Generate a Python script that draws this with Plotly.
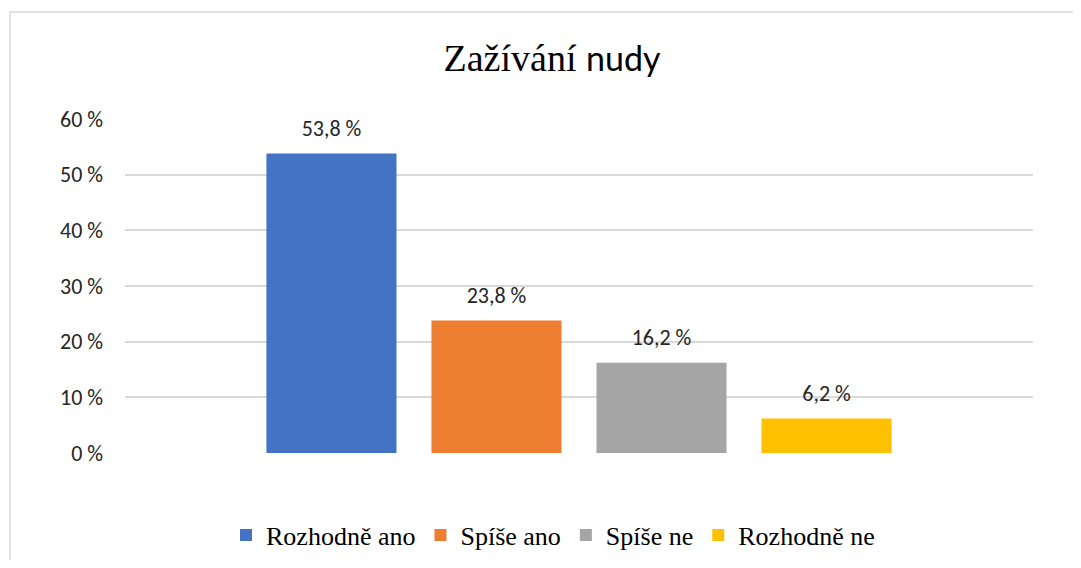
import plotly.graph_objects as go

title = "Zažívání nudy"
category = ["Zažívání nudy"]
series_names = ["Rozhodně ano", "Spíše ano", "Spíše ne", "Rozhodně ne"]
series_values = [53.8, 23.8, 16.2, 6.2]
series_colors = ["#4472C4", "#ED7D31", "#A5A5A5", "#FFC000"]
tick_values = [0, 10, 20, 30, 40, 50, 60]
tick_labels = [f"{v} %" for v in tick_values]

SANS = "Calibri, Carlito, Lato, 'Open Sans', sans-serif"
SERIF = "'Times New Roman', 'Liberation Serif', serif"

OFF = 8  # page body margin
W, H = 1081 - 2 * OFF, 568 - 2 * OFF
# target page-pixel geometry of the plot area
PL, PR, PT, PB = 125, 1033, 119, 453
L, T = PL - OFF, PT - OFF
R = W - (PR - OFF)
B = H - (PB - OFF)
pw, ph = W - L - R, H - T - B

def px_to_paper_x(px):
    return (px - PL) / pw

def px_to_paper_y(py):
    return (PB - py) / ph

fig = go.Figure()
for name, val, col in zip(series_names, series_values, series_colors):
    fig.add_trace(go.Bar(
        name=name, x=category, y=[val], marker=dict(color=col, line=dict(width=0)),
        hoverinfo="skip", offsetgroup=name,
    ))
for name, val in zip(series_names, series_values):
    lbl = f"{val:.1f}".replace(".", ",") + " %"
    fig.add_trace(go.Scatter(
        x=category, y=[val], mode="markers+text", text=[lbl],
        textposition="top center", offsetgroup=name,
        marker=dict(size=18, opacity=0), cliponaxis=False,
        textfont=dict(family=SANS, size=22, color="#262626"),
        showlegend=False, hoverinfo="skip",
    ))

fig.update_layout(
    width=W, height=H,
    margin=dict(l=L, r=R, t=T, b=B, autoexpand=False),
    paper_bgcolor="white", plot_bgcolor="white",
    barmode="group", bargap=0.273, bargroupgap=0.212,
    scattermode="group", scattergap=0.273,
    title=dict(
        text="Zažívání <span style='font-family:Lato;font-size:34px'>nudy</span>",
        font=dict(family=SERIF, size=38, color="#000000"),
        x=(552 - OFF) / W, xanchor="center", xref="container",
        y=1 - (58 - OFF) / H, yanchor="middle", yref="container",
    ),
    xaxis=dict(showticklabels=False, showgrid=False, zeroline=False, showline=False,
               ticks=""),
    yaxis=dict(range=[0, 60], tickvals=tick_values, ticktext=tick_labels,
               showgrid=True, gridcolor="#D9D9D9", gridwidth=1.5,
               zeroline=False, showline=False, ticks="", ticklabelstandoff=21,
               automargin=False,
               tickfont=dict(family=SANS, size=22, color="#262626")),
    legend=dict(orientation="h", x=px_to_paper_x(553), xanchor="center",
                y=px_to_paper_y(535), yanchor="middle",
                font=dict(family=SERIF, size=26, color="#000000"),
                itemwidth=30, tracegroupgap=0),
    showlegend=True,
    shapes=[dict(type="rect", xref="paper", yref="paper",
                 x0=px_to_paper_x(10), x1=px_to_paper_x(1100),
                 y0=px_to_paper_y(600), y1=px_to_paper_y(12),
                 line=dict(color="#D9D9D9", width=1.5), fillcolor="rgba(0,0,0,0)",
                 layer="below")],
)

fig.write_html("out.html")
